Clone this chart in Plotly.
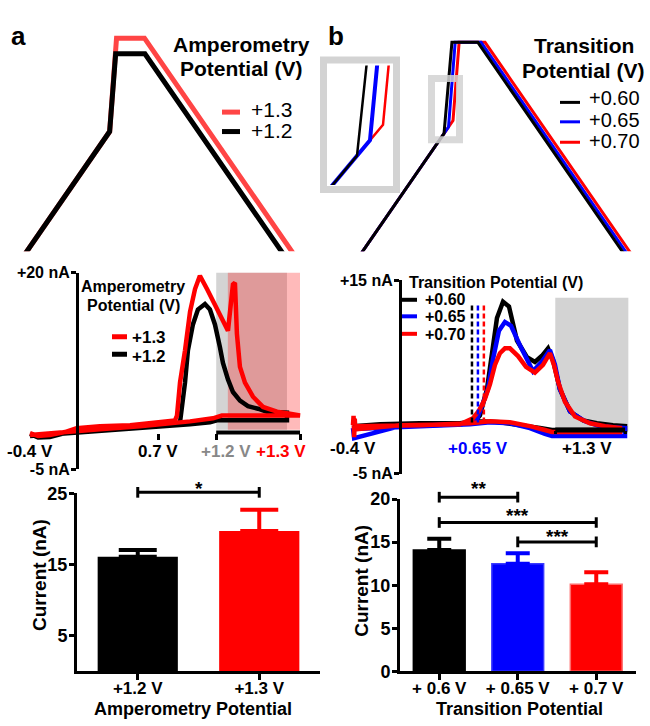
import plotly.graph_objects as go

W, H = 650, 726
FONT = "Liberation Sans, Arial, sans-serif"


def fx(px):
    return px / W


def fy(py):
    return 1 - py / H


# ---------------- data ----------------
# (a) waveform: time (ms) vs applied potential (V)
wave_a_t_12 = [0, 2.75, 2.89, 3.57, 7.57]
wave_a_v_12 = [-0.4, 0.7, 1.2, 1.2, -0.4]
wave_a_t_13 = [0, 2.75, 2.91, 3.56, 7.81]
wave_a_v_13 = [-0.4, 0.7, 1.3, 1.3, -0.4]

# (b) waveform for transition potentials
wave_b_t_060 = [0, 2.5, 2.72, 3.44, 7.69]
wave_b_v_060 = [-0.4, 0.6, 1.3, 1.3, -0.4]
wave_b_t_065 = [0, 2.625, 2.81, 3.53, 7.78]
wave_b_v_065 = [-0.4, 0.65, 1.3, 1.3, -0.4]
wave_b_t_070 = [0, 2.75, 2.92, 3.64, 7.89]
wave_b_v_070 = [-0.4, 0.7, 1.3, 1.3, -0.4]

# (a) voltammograms: potential axis (V, hold appended) vs current (nA)
cv_a_v_12 = [-0.40, -0.33, -0.23, -0.10, 0.00, 0.20, 0.46, 0.80, 0.889, 0.906, 0.932, 0.957, 1.000,
             1.043, 1.103, 1.146, 1.189, 1.232, 1.258, 1.301, 1.344, 1.404, 1.473, 1.559, 1.636,
             1.808, 1.808, 1.207, 1.146, 0.975, 0.631, 0.201, -0.142, -0.40]
cv_a_i_12 = [-0.54, -1.0, -0.92, -0.5, -0.05, 0.2, 0.32, 0.57, 0.94, 2.67, 6.0, 10.1, 13.4,
             15.3, 16.0, 15.3, 13.4, 10.5, 8.5, 6.4, 4.8, 3.7, 3.0, 2.67, 2.3,
             2.18, 1.19, 1.19, 0.94, 0.69, 0.32, -0.05, -0.54, -0.8]
cv_a_v_13 = [-0.40, -0.33, -0.23, -0.10, 0.00, 0.20, 0.46, 0.76, 0.846, 0.863, 0.889, 0.932, 0.975,
             1.018, 1.060, 1.121, 1.207, 1.301, 1.344, 1.361, 1.378, 1.404, 1.447, 1.516, 1.602,
             1.722, 1.834, 1.920, 1.249, 1.172, 0.975, 0.829, 0.545, 0.201, -0.142, -0.40]
cv_a_i_13 = [-0.42, -0.8, -0.67, -0.3, 0.2, 0.45, 0.57, 0.94, 1.19, 1.8, 6.0, 10.1, 15.0,
             17.9, 19.6, 17.9, 15.4, 12.6, 18.5, 18.7, 12.2, 8.0, 6.0, 4.2, 2.9,
             2.3, 2.05, 1.8, 1.8, 1.45, 1.06, 0.82, 0.45, 0.07, -0.42, -0.67]
hold_a_12 = [1.2, 1.808]
hold_a_13 = [1.3, 1.92]

# (b) voltammograms
cv_b_v_060 = [-0.40, -0.17, 0.16, 0.50, 0.625, 0.667, 0.726, 0.768, 0.810, 0.861, 0.911, 0.978,
              1.062, 1.129, 1.188, 1.239, 1.281, 1.339, 1.424, 1.534, 1.650, 1.785, 1.886, 1.886,
              1.272, 1.171, 1.003, 0.835, 0.667, 0.499, 0.163, -0.40]
cv_b_i_060 = [-0.07, 0.13, 0.23, 0.23, 0.43, 1.04, 3.75, 7.77, 11.1, 12.8, 12.3, 8.78,
              7.07, 6.56, 7.2, 7.97, 6.76, 3.75, 1.44, 0.53, 0.23, 0.03, -0.07, -0.47,
              -0.47, -0.27, 0.03, 0.33, 0.43, 0.13, 0.0, -0.2]
cv_b_v_065 = [-0.40, -0.39, -0.005, 0.50, 0.634, 0.676, 0.734, 0.776, 0.827, 0.877, 0.928, 1.003,
              1.113, 1.188, 1.255, 1.297, 1.339, 1.424, 1.550, 1.676, 1.886, 1.886, 1.272, 1.213,
              1.087, 0.919, 0.751, 0.583, 0.163, -0.40]
cv_b_i_065 = [-0.27, -1.3, -0.07, 0.13, 0.33, 1.74, 3.75, 6.8, 9.8, 10.7, 10.3, 8.3,
              5.6, 6.6, 7.8, 6.3, 3.75, 1.44, 0.43, -0.07, -0.27, -1.08, -1.08, -0.87,
              -0.27, 0.23, 0.33, 0.13, -0.07, -0.37]
cv_b_v_070 = [-0.40, -0.395, -0.39, -0.385, -0.38, -0.005, 0.50, 0.608, 0.659, 0.709, 0.751, 0.793,
              0.835, 0.877, 0.919, 0.987, 1.054, 1.129, 1.197, 1.255, 1.289, 1.323, 1.382, 1.466,
              1.592, 1.718, 1.844, 1.844, 1.272, 1.213, 1.087, 0.919, 0.751, 0.583, 0.163, -0.40]
cv_b_i_070 = [0.03, 1.0, -1.2, 0.7, -0.4, 0.03, 0.13, 0.73, 1.54, 2.74, 4.25, 6.26,
              7.47, 7.97, 7.97, 7.17, 6.06, 5.46, 6.26, 7.47, 6.26, 4.55, 2.44, 0.93,
              0.23, -0.07, -0.27, -0.67, -0.67, -0.47, -0.07, 0.33, 0.43, 0.23, 0.03, -0.07]
transition_v = [0.60, 0.65, 0.70]
transition_labels = ["+0.60", "+0.65", "+0.70"]
hold_b = [1.3, 1.886]

# bar charts
bar_a_labels = ["+1.2 V", "+1.3 V"]
bar_a_mean = [16.1, 19.7]
bar_a_sem = [0.95, 3.0]
bar_b_labels = ["+ 0.6 V", "+ 0.65 V", "+ 0.7 V"]
bar_b_mean = [14.1, 12.5, 10.1]
bar_b_sem = [1.3, 1.2, 1.4]
sig_a = [(0, 1, "*")]
sig_b = [(0, 1, "**"), (0, 2, "***"), (1, 2, "***")]

BLACK, RED, BLUE = "#000000", "#ff0000", "#0000ff"
RED_A = "#ff4545"

fig = go.Figure()


def add_line(x, y, color, width, xa, ya, dash=None):
    fig.add_trace(go.Scatter(x=x, y=y, mode="lines",
                             line=dict(color=color, width=width, dash=dash),
                             xaxis=xa, yaxis=ya, showlegend=False, hoverinfo="skip"))


# (a) waveform
add_line(wave_a_t_13, wave_a_v_13, RED_A, 5, "x", "y")
add_line(wave_a_t_12, wave_a_v_12, BLACK, 5, "x", "y")
# (b) waveform and inset
for xa, ya, widths in (("x2", "y2", (3, 3, 3)), ("x3", "y3", (2.5, 4, 2.5))):
    add_line(wave_b_t_070, wave_b_v_070, RED, widths[2], xa, ya)
    add_line(wave_b_t_065, wave_b_v_065, BLUE, widths[1], xa, ya)
    add_line(wave_b_t_060, wave_b_v_060, BLACK, widths[0], xa, ya)

# (a) voltammograms
add_line(cv_a_v_12, cv_a_i_12, BLACK, 4.5, "x4", "y4")
add_line(cv_a_v_13, cv_a_i_13, RED, 4.5, "x4", "y4")
# (b) voltammograms
add_line(cv_b_v_060, cv_b_i_060, BLACK, 4.5, "x5", "y5")
add_line(cv_b_v_065, cv_b_i_065, BLUE, 4.5, "x5", "y5")
add_line(cv_b_v_070, cv_b_i_070, RED, 4.5, "x5", "y5")
for tv, col in zip(transition_v, (BLACK, BLUE, RED)):
    add_line([tv, tv], [0.3, 12.4], col, 2.5, "x5", "y5", dash="5px,3px")

# bars
bar_a_colors = [BLACK, RED]
for i, (m, s, c) in enumerate(zip(bar_a_mean, bar_a_sem, bar_a_colors)):
    fig.add_trace(go.Bar(x=[i], y=[m], width=0.66, marker=dict(color=c, line=dict(width=0)),
                         error_y=dict(type="data", array=[s], arrayminus=[0], symmetric=False,
                                      color=c, thickness=4, width=19),
                         xaxis="x6", yaxis="y6", showlegend=False, hoverinfo="skip"))
bar_b_colors = [BLACK, BLUE, RED]
bar_b_edges = ["#000000", "#3a3aff", "#ff6a6a"]
for i, (m, s, c, e) in enumerate(zip(bar_b_mean, bar_b_sem, bar_b_colors, bar_b_edges)):
    fig.add_trace(go.Bar(x=[i], y=[m], width=0.66, marker=dict(color=c, line=dict(width=1.5, color=e)),
                         error_y=dict(type="data", array=[s], arrayminus=[0], symmetric=False,
                                      color=c, thickness=4, width=12),
                         xaxis="x7", yaxis="y7", showlegend=False, hoverinfo="skip"))

hidden = dict(visible=False, showgrid=False, zeroline=False, fixedrange=True)
tickfont = dict(family=FONT, size=16, color="black", weight="bold")
barfont = dict(family=FONT, size=18, color="black", weight="bold")
catfont = dict(family=FONT, size=17, color="black", weight="bold")

layout = dict(
    width=W, height=H, margin=dict(l=0, r=0, t=0, b=0), autosize=False,
    paper_bgcolor="white", plot_bgcolor="rgba(0,0,0,0)", barmode="overlay",
    font=dict(family=FONT, color="black"),
    xaxis=dict(hidden, domain=[fx(0), fx(320)], range=[0.2, 7.642], anchor="y"),
    yaxis=dict(hidden, domain=[fy(248), fy(20)], range=[-0.069, 1.356], anchor="x"),
    xaxis2=dict(hidden, domain=[fx(330), fx(650)], range=[-0.667, 8.222], anchor="y2"),
    yaxis2=dict(hidden, domain=[fy(248), fy(20)], range=[-0.303, 1.399], anchor="x2"),
    xaxis3=dict(hidden, domain=[fx(327), fx(393)], range=[2.212, 2.846], anchor="y3"),
    yaxis3=dict(hidden, domain=[fy(180), fy(57)], range=[0.506, 0.891], anchor="x3"),
    xaxis4=dict(domain=[fx(25), fx(305)], range=[-0.443, 1.963], anchor="free", position=fy(434.5),
                showline=False, showgrid=False, zeroline=False, ticks="outside",
                tickvals=[0.7, hold_a_12[0], hold_a_13[1]], ticklen=6, tickwidth=3, tickcolor="black",
                showticklabels=False),
    yaxis4=dict(domain=[fy(472), fy(270)], range=[-5, 20], anchor="free", position=fx(77),
                showline=True, linewidth=3, linecolor="black", showgrid=False, zeroline=False,
                ticks="outside", ticklen=5, tickwidth=2.5, tickcolor="black", ticklabelstandoff=-2,
                tickvals=[-5, 20], ticktext=["-5 nA", "+20 nA"], tickfont=tickfont),
    xaxis5=dict(domain=[fx(330), fx(640)], range=[-0.593, 2.012], anchor="free", position=fy(432),
                showline=False, showgrid=False, zeroline=False, ticks="outside",
                tickvals=hold_b, ticklen=3, tickwidth=3, tickcolor="black", showticklabels=False),
    yaxis5=dict(domain=[fy(477), fy(278)], range=[-5, 15], anchor="free", position=fx(400),
                showline=True, linewidth=3, linecolor="black", showgrid=False, zeroline=False,
                ticks="outside", ticklen=5, tickwidth=2.5, tickcolor="black", ticklabelstandoff=-2,
                tickvals=[-5, 15], ticktext=["-5 nA", "+15 nA"], tickfont=tickfont),
    xaxis6=dict(domain=[fx(77), fx(320)], range=[-0.5, 1.5], anchor="y6", showline=True, linewidth=3,
                linecolor="black", showgrid=False, zeroline=False, ticks="outside", ticklen=6,
                tickwidth=3, tickcolor="black", tickvals=list(range(len(bar_a_labels))),
                ticktext=bar_a_labels, tickfont=catfont, ticklabelstandoff=-7),
    yaxis6=dict(domain=[fy(680), fy(497)], range=[0, 25], anchor="x6", showline=True, linewidth=3,
                linecolor="black", showgrid=False, zeroline=False, ticks="outside", ticklen=5,
                tickwidth=3, tickcolor="black", tickvals=[5, 15, 25], tickfont=barfont,
                ticklabelstandoff=-2),
    xaxis7=dict(domain=[fx(400), fx(635.5)], range=[-0.5, 2.5], anchor="y7", showline=True, linewidth=3,
                linecolor="black", showgrid=False, zeroline=False, ticks="outside", ticklen=6,
                tickwidth=3, tickcolor="black", tickvals=list(range(len(bar_b_labels))),
                ticktext=bar_b_labels, tickfont=catfont, ticklabelstandoff=-7),
    yaxis7=dict(domain=[fy(680), fy(503)], range=[0, 20], anchor="x7", showline=True, linewidth=3,
                linecolor="black", showgrid=False, zeroline=False, ticks="outside", ticklen=5,
                tickwidth=3, tickcolor="black", tickvals=[0, 5, 10, 15, 20], tickfont=barfont,
                ticklabelstandoff=-2),
)
fig.update_layout(**layout)

shapes = []
# hold regions (a)
shapes.append(dict(type="rect", xref="x4", yref="y4", x0=hold_a_12[0], x1=hold_a_12[1], y0=0, y1=20,
                   fillcolor="#d4d4d4", line=dict(width=0), layer="below"))
shapes.append(dict(type="rect", xref="x4", yref="y4", x0=hold_a_13[0], x1=hold_a_13[1], y0=0, y1=20,
                   fillcolor="rgba(255,0,0,0.27)", line=dict(width=0), layer="below"))
shapes.append(dict(type="line", xref="x4", yref="y4", x0=hold_a_12[0], x1=hold_a_13[1], y0=-0.36, y1=-0.36,
                   line=dict(color="black", width=4)))
# hold region (b)
shapes.append(dict(type="rect", xref="x5", yref="y5", x0=hold_b[0], x1=1.914, y0=-0.6, y1=13.2,
                   fillcolor="#d3d3d3", line=dict(width=0), layer="below"))
shapes.append(dict(type="line", xref="x5", yref="y5", x0=hold_b[0], x1=hold_b[1], y0=-0.47, y1=-0.47,
                   line=dict(color="black", width=5)))
# inset boxes
shapes.append(dict(type="rect", xref="paper", yref="paper", x0=fx(323.5), x1=fx(396.5), y0=fy(184.5),
                   y1=fy(51.5), line=dict(color="#d3d3d3", width=7), layer="above"))
shapes.append(dict(type="rect", xref="paper", yref="paper", x0=fx(431.5), x1=fx(459.5), y0=fy(133.5),
                   y1=fy(70.5), line=dict(color="#d3d3d3", width=7), layer="above", opacity=0.85))


def swatch(x0, x1, y, color, width):
    shapes.append(dict(type="line", xref="paper", yref="paper", x0=fx(x0), x1=fx(x1), y0=fy(y), y1=fy(y),
                       line=dict(color=color, width=width)))


swatch(222, 240, 105, RED_A, 5)
swatch(222, 240, 125, BLACK, 5)
for y, c in zip((95, 115, 136), (BLACK, BLUE, RED)):
    swatch(560, 580, y, c, 3)
swatch(112, 127, 336, RED, 5)
swatch(112, 127, 354, BLACK, 5)
for y, c in zip((298, 315, 333), (BLACK, BLUE, RED)):
    swatch(402, 417, y, c, 4)


def bracket(xref, i0, i1, ypx):
    shapes.append(dict(type="line", xref=xref, yref="paper", x0=i0, x1=i1, y0=fy(ypx), y1=fy(ypx),
                       line=dict(color="black", width=3)))
    for i in (i0, i1):
        shapes.append(dict(type="line", xref=xref, yref="paper", x0=i, x1=i, y0=fy(ypx - 5.5),
                           y1=fy(ypx + 5.5), line=dict(color="black", width=3)))


for i0, i1, _ in sig_a:
    bracket("x6", i0, i1, 496)
for (i0, i1, _), ypx in zip(sig_b, (501, 527, 547)):
    bracket("x7", i0, i1, ypx)

fig.update_layout(shapes=shapes)


def ann(x, y, text, size, color="black", bold=True, xanchor="center", xref="paper", angle=0):
    fig.add_annotation(x=x if xref != "paper" else fx(x), y=fy(y), xref=xref, yref="paper", text=text,
                       showarrow=False, textangle=angle, xanchor=xanchor, yanchor="middle",
                       font=dict(family=FONT, size=size, color=color, weight="bold" if bold else "normal"))


# panel letters
ann(18, 27, "a", 26)
ann(336, 27, "b", 26)
# top titles / legends
ann(241, 35, "Amperometry", 21)
ann(241, 60, "Potential (V)", 21)
ann(249, 102, "+1.3", 21, bold=False, xanchor="left")
ann(249, 124, "+1.2", 21, bold=False, xanchor="left")
ann(584, 37, "Transition", 21)
ann(583, 62, "Potential (V)", 21)
for lab, y in zip(transition_labels, (91, 113, 135)):
    ann(587, y, lab, 20, bold=False, xanchor="left")
# middle (a)
ann(133, 284, "Amperometry", 16)
ann(133, 304, "Potential (V)", 16)
ann(130, 337, "+1.3", 17, xanchor="left")
ann(130, 356, "+1.2", 17, xanchor="left")
ann(-0.4, 454, "-0.4 V", 17, xref="x4")
ann(0.7, 454, "0.7 V", 17, xref="x4")
ann(226, 454, "+1.2 V", 17, color="#888888")
ann(281, 454, "+1.3 V", 17, color=RED)
# middle (b)
ann(407, 280, "Transition Potential (V)", 16, xanchor="left")
for lab, y in zip(transition_labels, (298, 315, 334)):
    ann(423, y, lab, 16, xanchor="left")
ann(-0.4, 451, "-0.4 V", 17, xref="x5")
ann(transition_v[1], 451, "+0.65 V", 17, color=BLUE, xref="x5")
ann(587, 451, "+1.3 V", 17)
# bars
ann(40, 581, "Current (nA)", 19, angle=-90)
ann(362, 587, "Current (nA)", 19, angle=-90)
ann(193, 719, "Amperometry Potential", 18)
ann(519, 719, "Transition Potential", 18)
for i0, i1, s in sig_a:
    ann((i0 + i1) / 2, 492, s, 19, xref="x6")
for (i0, i1, s), ypx in zip(sig_b, (492, 520, 541)):
    ann((i0 + i1) / 2, ypx, s, 19, xref="x7")

fig.write_html("out.html")
